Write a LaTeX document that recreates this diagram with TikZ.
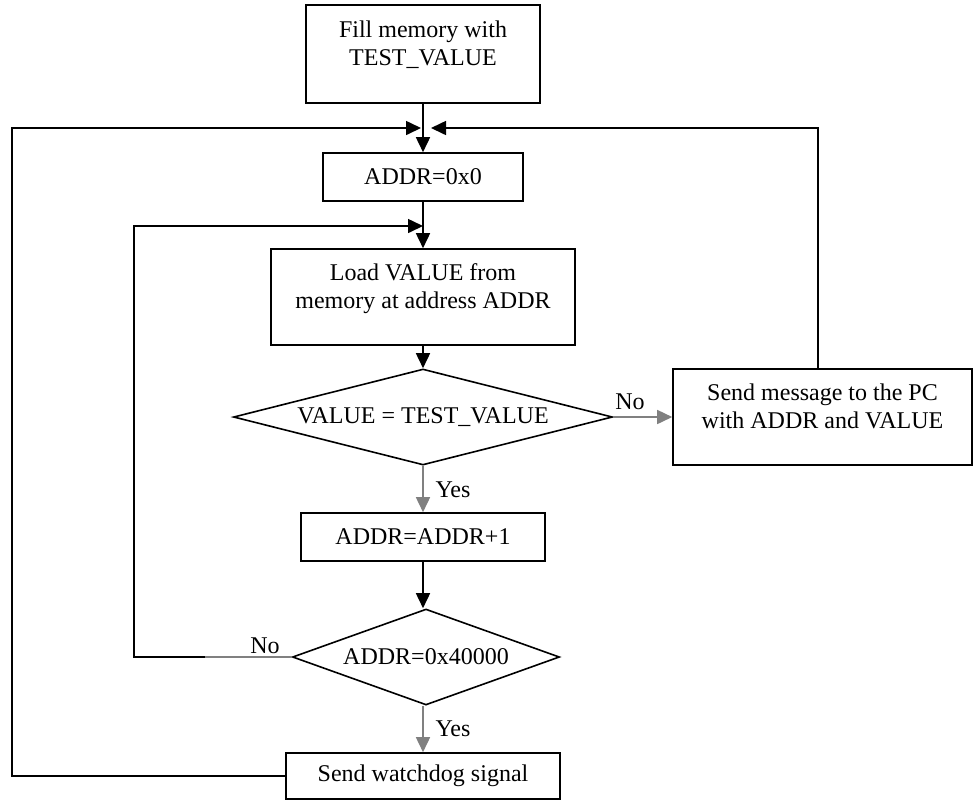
\documentclass[tikz,border=0pt]{standalone}
\usepackage{fontspec}
\setmainfont{Liberation Serif}
\usetikzlibrary{arrows.meta,shapes.geometric}
% text block nudged upward inside a box, without changing the box size
\newcommand{\uptext}[2]{\raisebox{#1}[\height][\depth]{\begin{tabular}{@{}c@{}}#2\end{tabular}}}
\begin{document}
\begin{tikzpicture}[x=0.5pt,y=-0.5pt,
  font=\fontsize{12}{14}\selectfont,
  box/.style={draw, line width=0.8pt, inner sep=0pt, align=center},
  decision/.style={diamond, draw, line width=0.8pt, inner sep=0pt},
  tip/.style={-{Triangle[length=7.5pt,width=7pt]}},
  flow/.style={line width=0.8pt, tip},
  branch/.style={line width=0.8pt, draw=gray, tip, color=gray},
  plain/.style={line width=0.8pt},
  lbl/.style={inner sep=0pt}]
\useasboundingbox (0,0) rectangle (974,800);

% process boxes and decisions
\node[box, minimum width=117pt, minimum height=49pt] (fill) at (423,54)
  {\uptext{4pt}{Fill memory with\\TEST\_VALUE}};
\node[box, minimum width=100pt, minimum height=24pt] (addr0) at (423,177) {ADDR=0x0};
\node[box, minimum width=152pt, minimum height=48pt] (load) at (423,297)
  {\uptext{4pt}{Load VALUE from\\memory at address ADDR}};
\node[decision, minimum width=189.5pt, minimum height=48pt, aspect=3.95] (cmp) at (423,417)
  {VALUE = TEST\_VALUE};
\node[box, minimum width=149.5pt, minimum height=48pt] (send) at (822.5,417)
  {\uptext{4pt}{Send message to the PC\\with ADDR and VALUE}};
\node[box, minimum width=122pt, minimum height=24pt] (inc) at (423,537) {ADDR=ADDR+1};
\node[decision, minimum width=133.5pt, minimum height=48pt, aspect=2.78] (last) at (426,657)
  {ADDR=0x40000};
\node[box, minimum width=137pt, minimum height=23pt] (watch) at (423,776) {Send watchdog signal};

% helper points for the loops
\coordinate (outerL) at (12,128);
\coordinate (mergeL) at (421,128);
\coordinate (mergeR) at (431,128);
\coordinate (rloop) at (818,128);
\coordinate (innerL) at (134,226);
\coordinate (innerT) at (423,226);
\coordinate (nobreak) at (205,657);

% main flow
\draw[flow] (fill.south) -- (addr0.north);
\draw[flow] (addr0.south) -- (load.north);
\draw[flow] (load.south) -- (cmp.north);
\draw[branch] (cmp.east) -- (send.west);
\draw[branch] (cmp.south) -- (inc.north);
\draw[flow] (inc.south) -- (last.north -| inc.south);
\draw[branch] (last.south -| watch.north) -- (watch.north);

% loops back to the top
\draw[flow] (watch.west) -| (outerL) -- (mergeL);
\draw[flow] (send.north -| rloop) -- (rloop) -- (mergeR);
\draw[plain, gray] (last.west) -- (nobreak);
\draw[flow] (nobreak) -| (innerL) -- (innerT);

% branch labels
\node[lbl] (no1) at (630,402) {No};
\node[lbl] (yes1) at (453,490) {Yes};
\node[lbl] (no2) at (265,646) {No};
\node[lbl] (yes2) at (453,729) {Yes};
\end{tikzpicture}
\end{document}
